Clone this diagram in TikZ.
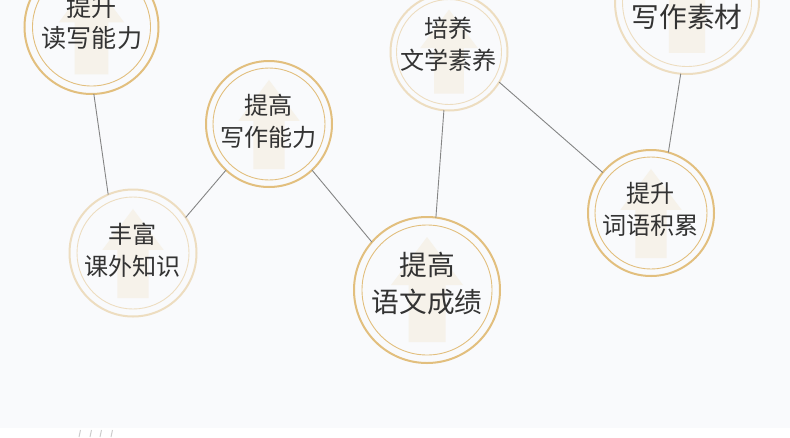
\documentclass[tikz,border=0pt]{standalone}
\usepackage{fontspec}
\setmainfont{Noto Sans CJK SC}
\usepackage{xcolor}
\definecolor{ppaper}{HTML}{F9FAFC}
\definecolor{ggold}{HTML}{E2BF7E}
\definecolor{ppale}{HTML}{EDDDC0}
\definecolor{hhouse}{HTML}{F6F2EA}
\definecolor{llink}{HTML}{858585}
\definecolor{ttext}{HTML}{333333}
\usetikzlibrary{positioning}
\tikzset{
	ring/.style={circle,draw=ggold,line width=2pt,inner sep=0pt,outer sep=0pt,minimum size=#1},
	inring/.style={circle,draw=ggold,line width=.9pt,inner sep=0pt,outer sep=0pt,minimum size=#1},
	paleset/.style={draw=ppale},
	lab/.style={text=ttext,align=center,inner sep=0pt,font=\fontsize{24.1}{32}\selectfont},
	biglab/.style={text=ttext,align=center,inner sep=0pt,font=\fontsize{27.7}{37}\selectfont},
	link/.style={draw=llink,line width=.9pt},
	housemark/.pic={\fill[hhouse] (0,-53) -- (36,-5) -- (18.5,-5) -- (18.5,52) -- (-18.5,52) -- (-18.5,-5) -- (-36,-5) -- cycle;},
}
\begin{document}
\begin{tikzpicture}[x=1pt,y=-1pt]
	\useasboundingbox (0,0) rectangle (790,437);
	\fill[ppaper] (0,0) rectangle (790,428);
	\fill[white] (0,428) rectangle (790,437);
	\clip (0,0) rectangle (790,437);
	% pale marks under the sheet
	\foreach \sx in {79,90,100,111}
		\draw[gray!40,line width=1pt] (\sx+1.5,430) -- (\sx,437);
	% upward marks
	\pic[scale=.91] at (91.5,27) {housemark};
	\pic[scale=.85] at (269,125) {housemark};
	\pic[scale=.85] at (133,254) {housemark};
	\pic at (427,290) {housemark};
	\pic[scale=.8] at (449,52) {housemark};
	\pic[scale=.98] at (687,2) {housemark};
	\pic[scale=.85] at (651,214) {housemark};
	% rings
	\node[ring=134pt] (n0) at (91.5,27) {};
	\node[inring=118pt] (i0) at (91.5,27) {};
	\node[ring=126pt] (n1) at (269,124) {};
	\node[inring=112pt] (i1) at (269,124) {};
	\node[ring=127pt,paleset] (n2) at (133,253) {};
	\node[inring=112pt,paleset] (i2) at (133,253) {};
	\node[ring=146pt] (n3) at (427,290) {};
	\node[inring=130pt] (i3) at (427,290) {};
	\node[ring=117pt,paleset] (n4) at (449,52) {};
	\node[inring=105pt,paleset] (i4) at (449,52) {};
	\node[ring=144pt,paleset] (n5) at (687,2) {};
	\node[inring=129pt,paleset] (i5) at (687,2) {};
	\node[ring=126pt] (n6) at (651,213) {};
	\node[inring=112pt] (i6) at (651,213) {};
	% links
	\draw (n0.-88.7) edge [link] (n2.113.3);
	\draw (n2.34.7) edge [link] (n1.227.5);
	\draw (n1.-47.6) edge [link] (n3.139.3);
	\draw (n3.83) edge [link] (n4.-95);
	\draw (n4.-31.5) edge [link] (n6.140.8);
	\draw (n6.74.4) edge [link] (n5.-95.5);
	% labels
	\node[lab,font=\fontsize{25.1}{31}\selectfont] (t0) at (92,23) {提升\\读写能力};
	\node[lab] (t1) at (268.7,121.5) {提高\\写作能力};
	\node[lab] (t2) at (132.7,250.5) {丰富\\课外知识};
	\node[biglab] (t3) at (427,283.5) {提高\\语文成绩};
	\node[lab] (t4) at (448.7,44) {培养\\文学素养};
	\node[biglab] (t5) at (687,17) {写作素材};
	\node[lab] (t6) at (650.7,209.5) {提升\\词语积累};
\end{tikzpicture}
\end{document}
